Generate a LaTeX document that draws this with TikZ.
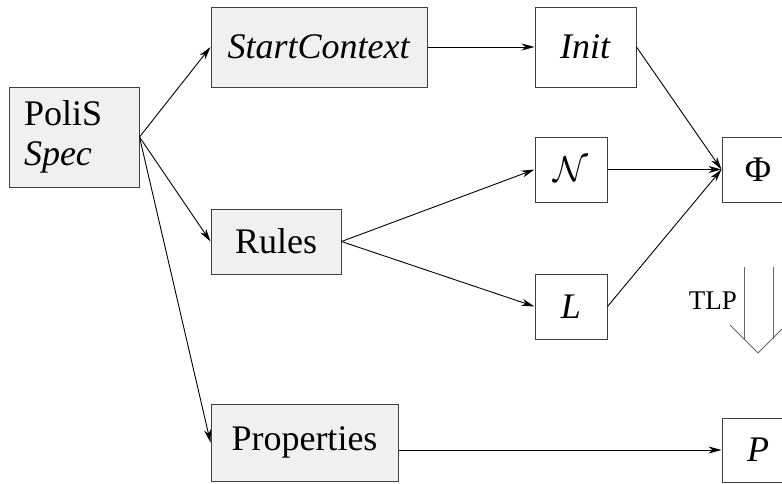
\RequirePackage{fix-cm}
\documentclass[tikz,border=0pt]{standalone}
\usepackage{fontspec}
\setmainfont{Liberation Serif}
\usepackage{amsmath}
\usetikzlibrary{arrows.meta}
\tikzset{
  box/.style={draw=black!75, line width=1pt, inner sep=0pt, minimum height=65,
    font=\fontsize{36}{40}\selectfont},
  srcbox/.style={box, fill=black!6},
  outbox/.style={box, fill=white},
  conn/.style={line width=0.9pt, -{Stealth[length=13pt,width=7pt,inset=4pt]}}
}

\begin{document}
\begin{tikzpicture}[x=1pt,y=-1pt]
      \useasboundingbox (0,0) rectangle (782,483);

      \node[srcbox, minimum height=100, text width=100, inner xsep=15, align=left] (polis) at (74,137) {PoliS\\\textit{Spec}};
      \node[srcbox, minimum width=216, minimum height=80] (start) at (319,47) {\textit{StartContext}};
      \node[srcbox, minimum width=130] (rules) at (276,241.5) {Rules};
      \node[srcbox, minimum width=187, minimum height=77] (props) at (304.5,442.5) {Properties};

      \node[outbox, minimum width=101, minimum height=80] (init) at (585.5,47) {\textit{Init}};
      \node[outbox, minimum width=72] (calN) at (571,169.5) {$\mathcal{N}$};
      \node[outbox, minimum width=72] (bigL) at (571,306.5) {\textit{L}};
      \node[outbox, minimum width=72] (phi) at (758,169.5) {Φ};
      \node[outbox, minimum width=72, minimum height=64] (bigP) at (758,450) {\textit{P}};

      \draw[conn] (polis.east) -- (start.west);
      \draw[conn] (polis.east) -- (rules.west);
      \draw[conn] (polis.east) -- (props.west);
      \draw[conn] (start) -- (init);
      \draw[conn] (rules.east) -- (calN.west);
      \draw[conn] (rules.east) -- (bigL.west);
      \draw[conn] (init.east) -- (phi.west);
      \draw[conn] (calN) -- (phi);
      \draw[conn] (bigL.east) -- (phi.west);
      \draw[conn] (bigP.west -| props.east) -- (bigP.west);

      % the TLP step
      \draw[black!60, line width=0.9pt] (744,267) -- (744,339);
      \draw[black!60, line width=0.9pt] (773,267) -- (773,339);
      \draw[black!60, line width=0.9pt] (730,325) -- (758,353) -- (786,325);
      \node[font=\fontsize{27}{30}\selectfont, inner sep=0pt, anchor=east] (tlp) at (737,301) {TLP};
    \end{tikzpicture}
\end{document}
